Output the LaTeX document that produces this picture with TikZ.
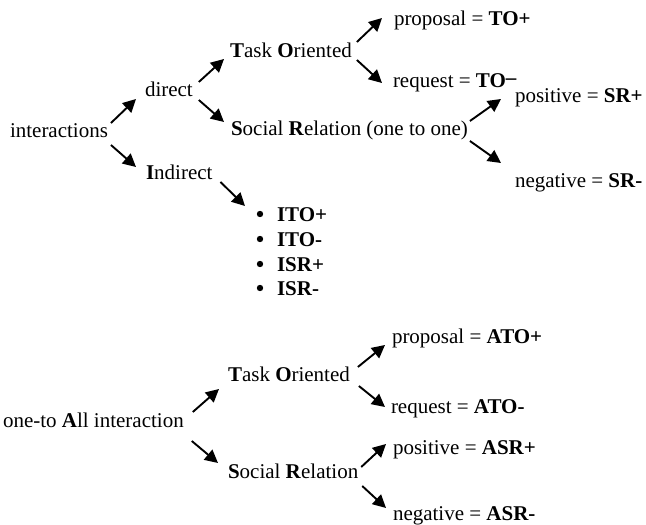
\documentclass[tikz,border=0pt]{standalone}
\usepackage{fontspec}
\setmainfont{Liberation Serif}
\usetikzlibrary{arrows.meta}
\begin{document}
\begin{tikzpicture}[x=1pt,y=-1pt,
  lbl/.style={anchor=base west,inner sep=0pt,outer sep=0pt,font=\fontsize{21}{24.7}\selectfont},
  item/.style={lbl,font=\fontsize{21}{24.7}\selectfont\bfseries},
  arr/.style={line width=1.9pt,-{Triangle[length=13pt,width=13pt]}}]
\useasboundingbox (0,0) rectangle (646,525);

% first tree: interactions
\node[lbl] (inter) at (10,137) {interactions};
\node[lbl] (direct) at (145,96) {direct};
\node[lbl] (indirect) at (146,179) {\textbf{I}ndirect};
\node[lbl] (to) at (230,57) {\textbf{T}ask \textbf{O}riented};
\node[lbl] (sr) at (231,135) {\textbf{S}ocial \textbf{R}elation (one to one)};
\node[lbl] (prop) at (394,25) {proposal = \textbf{TO+}};
\node[lbl] (req) at (393,87) {request = \textbf{TO\raisebox{3pt}{–}}};
\node[lbl] (pos) at (515,102) {positive = \textbf{SR+}};
\node[lbl] (neg) at (515,187) {negative = \textbf{SR-}};

% bulleted list of indirect kinds
\node[item] (i1) at (277,221) {ITO+};
\node[item] (i2) at (277,246) {ITO-};
\node[item] (i3) at (277,271) {ISR+};
\node[item] (i4) at (277,295) {ISR-};
\foreach \i in {i1,i2,i3,i4}
  \fill ([shift={(-17,-7)}]\i.base west) circle (3.2pt);

% second tree: one-to-all
\node[lbl] (all) at (3,427) {one-to \textbf{A}ll interaction};
\node[lbl] (ato) at (228,381) {\textbf{T}ask \textbf{O}riented};
\node[lbl] (asr) at (228,478) {\textbf{S}ocial \textbf{R}elation};
\node[lbl] (aprop) at (392,343) {proposal = \textbf{ATO+}};
\node[lbl] (areq) at (391,413) {request = \textbf{ATO-}};
\node[lbl] (apos) at (393,454) {positive = \textbf{ASR+}};
\node[lbl] (aneg) at (393,520) {negative = \textbf{ASR-}};

% connectors
\draw[arr] ([shift={(3,-14)}]inter.base east) -- ([shift={(-9,3)}]direct.base west);
\draw[arr] ([shift={(3,8)}]inter.base east) -- ([shift={(-10,-12)}]indirect.base west);
\draw[arr] ([shift={(6,-14)}]direct.base east) -- ([shift={(-6,2)}]to.base west);
\draw[arr] ([shift={(6,4)}]direct.base east) -- ([shift={(-7,-13)}]sr.base west);
\draw[arr] ([shift={(8,3)}]indirect.base east) -- ([shift={(-32,-15)}]i1.base west);
\draw[arr] ([shift={(5,-15)}]to.base east) -- ([shift={(-12,-7)}]prop.base west);
\draw[arr] ([shift={(5,3)}]to.base east) -- ([shift={(-11,-4)}]req.base west);
\draw[arr] ([shift={(2,-14)}]sr.base east) -- ([shift={(-14,-3)}]pos.base west);
\draw[arr] ([shift={(2,6)}]sr.base east) -- ([shift={(-14,-24)}]neg.base west);

\draw[arr] ([shift={(9,-15)}]all.base east) -- ([shift={(-9,8)}]ato.base west);
\draw[arr] ([shift={(8,14)}]all.base east) -- ([shift={(-10,-15)}]asr.base west);
\draw[arr] ([shift={(8,-14)}]ato.base east) -- ([shift={(-7,2)}]aprop.base west);
\draw[arr] ([shift={(9,5)}]ato.base east) -- ([shift={(-6,-6)}]areq.base west);
\draw[arr] ([shift={(3,-11)}]asr.base east) -- ([shift={(-7,-10)}]apos.base west);
\draw[arr] ([shift={(4,8)}]asr.base east) -- ([shift={(-7,-12)}]aneg.base west);
\end{tikzpicture}
\end{document}
